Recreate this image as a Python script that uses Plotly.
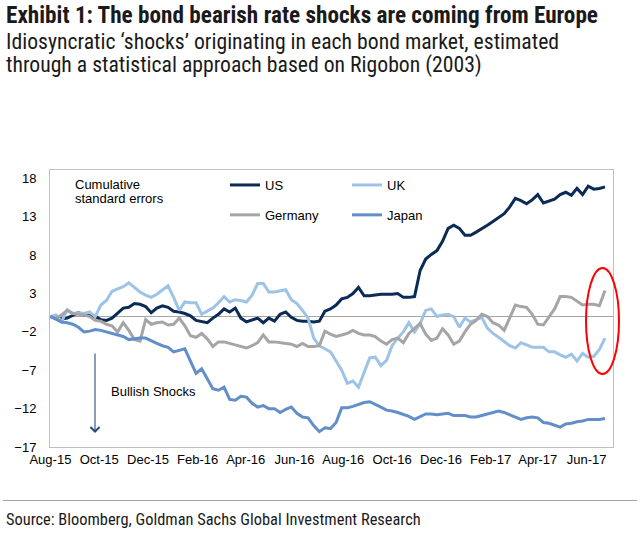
import plotly.graph_objects as go
import pandas as pd

# ---- data (weekly, cumulative standard errors) ----
start_date = "2015-08-01"
n_weeks = 100
dates = pd.date_range(start_date, periods=n_weeks, freq="7D")

us = [0, -0.2, -0.3, -0.2, 0.2, 0.5, 0.2, 0.1, 0, -0.4,
      -0.5, -0.2, 0.5, 1.1, 1.2, 1.7, 1.6, 1.3, 0.5, 1.1,
      1.4, 1.2, 0.7, 0.6, 0.4, 0.1, -0.5, -0.7, -0.8, -0.2,
      0.3, 1.0, 0.6, 1.1, -0.2, -0.7, -0.5, -0.2, -0.8, -0.2,
      -0.6, 0.3, 0.6, -0.1, -0.5, -0.6, -0.6, -0.7, -0.6, 0.7,
      1.0, 1.5, 2.3, 2.5, 3.0, 3.8, 2.7, 2.7, 2.8, 2.9,
      2.9, 2.9, 3.0, 2.5, 2.5, 2.6, 6.0, 7.5, 8.1, 8.6,
      9.8, 11.5, 11.9, 11.5, 10.6, 10.6, 11.0, 11.4, 11.9, 12.4,
      12.9, 13.4, 14.3, 15.4, 15.1, 14.7, 15.2, 15.9, 14.8, 15.0,
      15.3, 15.9, 16.2, 15.8, 16.7, 15.9, 17.0, 16.6, 16.7, 16.9]

uk = [0, 0.2, -0.7, 0.9, 0.4, 0.5, 0.4, 0.6, 0, 1.5,
      2.1, 3.3, 3.6, 3.9, 4.4, 3.8, 3.2, 2.8, 2.5, 2.9,
      3.4, 4.0, 2.5, 0.8, 1.9, 1.8, 1.8, 0.3, 0.7, 1.1,
      1.8, 2.6, 1.9, 2.2, 2.1, 1.9, 2.8, 4.3, 4.3, 3.2,
      3.2, 3.4, 3.5, 2.2, 1.7, 0.8, -0.2, -2.8, -3.8, -4.2,
      -4.6, -5.8, -7.0, -8.7, -8.4, -9.2, -7.2, -5.4, -5.3, -6.4,
      -5.7, -3.8, -2.8, -2.0, -0.8, -2.0, -0.9, 0.8, 1.0, 0,
      0.2, 0.3, 0, -1.4, -0.2, -0.7, -0.4, -0.1, -1.5, -2.2,
      -2.7, -3.3, -3.8, -4.1, -3.4, -3.7, -4.0, -4.0, -4.0, -4.6,
      -4.6, -5.0, -5.3, -4.9, -5.8, -4.8, -5.3, -5.2, -4.3, -2.8]

germany = [0, -0.2, 0.2, 0.8, 0.4, 0.3, 0.2, 0, -0.5, -0.6,
           -1.0, -1.2, -2.0, -0.8, -1.8, -3.0, -3.2, -0.4, -1.0, -0.8,
           -0.7, -1.1, -1.0, -0.2, -1.2, -2.5, -2.7, -2.2, -2.9, -3.9,
           -3.3, -3.3, -3.5, -3.8, -4.0, -4.1, -3.8, -3.4, -2.4, -3.3,
           -3.3, -3.4, -3.5, -3.6, -3.9, -3.5, -3.9, -3.9, -3.8, -1.9,
           -2.3, -2.6, -2.4, -2.2, -1.8, -2.2, -2.4, -2.4, -2.6, -3.2,
           -3.6, -3.0, -2.8, -3.4, -2.2, -1.6, -0.9, -2.3, -3.1, -2.8,
           -1.6, -2.4, -3.6, -3.2, -2.0, -1.0, -0.5, 0.3, 0, -0.8,
           -1.1, -1.8, -0.1, 1.5, 1.3, 1.2, 0.3, -1.0, -1.1, 0,
           1.0, 2.6, 2.6, 2.5, 2.0, 1.5, 1.6, 1.6, 1.4, 3.4]

japan = [0, -0.4, -0.7, -0.8, -1.0, -1.4, -2.0, -1.9, -1.7, -1.8,
         -2.0, -2.2, -2.3, -2.6, -3.0, -2.9, -2.8, -2.8, -3.2, -3.5,
         -3.8, -4.0, -4.6, -4.4, -4.2, -5.8, -7.4, -6.8, -8.2, -9.4,
         -9.6, -9.2, -10.8, -10.9, -10.4, -10.5, -11.3, -11.8, -11.6, -12.0,
         -12.0, -12.5, -12.1, -11.8, -12.6, -13.1, -13.2, -14.2, -15.0, -14.5,
         -14.6, -13.8, -11.9, -11.9, -11.7, -11.4, -11.2, -11.1, -11.4, -11.8,
         -12.2, -12.3, -12.5, -12.7, -13.0, -13.4, -13.1, -12.7, -12.7, -12.8,
         -12.7, -12.6, -12.9, -12.9, -12.9, -13.1, -13.1, -12.9, -12.7, -12.5,
         -12.3, -12.5, -12.8, -13.0, -13.4, -13.2, -13.1, -13.2, -13.8, -13.9,
         -14.1, -14.4, -14.0, -13.9, -13.7, -13.6, -13.4, -13.4, -13.4, -13.3]

y_ticks = [-17, -12, -7, -2, 3, 8, 13, 18]
x_tick_dates = ["2015-08-01", "2015-10-01", "2015-12-01", "2016-02-01", "2016-04-01",
                "2016-06-01", "2016-08-01", "2016-10-01", "2016-12-01", "2017-02-01",
                "2017-04-01", "2017-06-01"]
x_tick_labels = ["Aug-15", "Oct-15", "Dec-15", "Feb-16", "Apr-16", "Jun-16",
                 "Aug-16", "Oct-16", "Dec-16", "Feb-17", "Apr-17", "Jun-17"]

# ---- styling ----
W, H = 640, 535
L, R, T, B = 50, 27, 170, 88
PW, PH = W - L - R, H - T - B


def px(x):
    return (x - L) / PW


def py(y):
    return (H - B - y) / PH


FONT = "Liberation Sans, Arial, sans-serif"
NARROW = "Liberation Sans Narrow, Arial Narrow, Roboto Condensed, DejaVu Sans Condensed, sans-serif"

series = [
    ("US", us, "#0B2B55", "legend", "g1"),
    ("UK", uk, "#9DC3E6", "legend2", "g3"),
    ("Germany", germany, "#A5A5A5", "legend", "g2"),
    ("Japan", japan, "#628FC8", "legend2", "g4"),
]

fig = go.Figure()
for name, vals, color, leg, grp in series:
    fig.add_trace(go.Scatter(
        x=dates, y=vals, name=name, mode="lines",
        line=dict(color=color, width=3),
        legend=leg, legendgroup=grp,
    ))

fig.update_layout(
    width=W, height=H,
    margin=dict(l=L, r=R, t=T, b=B),
    paper_bgcolor="white", plot_bgcolor="white",
    font=dict(family=FONT, size=13, color="#000000"),
    showlegend=True,
    legend=dict(x=px(225), y=py(170), xanchor="left", yanchor="top",
                bgcolor="rgba(0,0,0,0)", tracegroupgap=10,
                font=dict(size=13, family=FONT), itemwidth=30),
    legend2=dict(x=px(347), y=py(170), xanchor="left", yanchor="top",
                 bgcolor="rgba(0,0,0,0)", tracegroupgap=10,
                 font=dict(size=13, family=FONT), itemwidth=30),
    xaxis=dict(
        type="date",
        range=["2015-07-31 12:00", "2017-07-04"],
        tickvals=x_tick_dates, ticktext=x_tick_labels,
        showgrid=False, zeroline=False,
        showline=True, linecolor="#BFBFBF", linewidth=1, mirror=True,
        ticks="", tickfont=dict(size=13, family=FONT),
    ),
    yaxis=dict(
        range=[-17, 19.1],
        tickvals=y_ticks,
        showgrid=False,
        zeroline=True, zerolinecolor="#A6A6A6", zerolinewidth=1,
        showline=True, linecolor="#BFBFBF", linewidth=1, mirror=True,
        ticks="", ticklabelstandoff=10, tickfont=dict(size=13, family=FONT),
    ),
)

annotations = [
    dict(text="<b>Exhibit 1: The bond bearish rate shocks are coming from Europe</b>",
         x=px(4), y=py(15), xanchor="left", yanchor="middle",
         font=dict(family=NARROW, size=23.2, color="#1a1a1a")),
    dict(text="Idiosyncratic ‘shocks’ originating in each bond market, estimated",
         x=px(4), y=py(41), xanchor="left", yanchor="middle",
         font=dict(family=NARROW, size=21.7, color="#1a1a1a")),
    dict(text="through a statistical approach based on Rigobon (2003)",
         x=px(4), y=py(65), xanchor="left", yanchor="middle",
         font=dict(family=NARROW, size=21.7, color="#1a1a1a")),
    dict(text="Cumulative", x=px(73), y=py(184), xanchor="left", yanchor="middle",
         font=dict(size=13)),
    dict(text="standard errors", x=px(73), y=py(198), xanchor="left", yanchor="middle",
         font=dict(size=13)),
    dict(text="Bullish Shocks", x=px(109), y=py(391), xanchor="left", yanchor="middle",
         font=dict(size=13)),
    dict(text="Source: Bloomberg, Goldman Sachs Global Investment Research",
         x=px(4), y=py(519), xanchor="left", yanchor="middle",
         font=dict(family=NARROW, size=16.4, color="#1a1a1a")),
    dict(text="", x=px(95), y=py(433), ax=0, ay=-81, showarrow=True,
         arrowhead=4, arrowsize=1.6, arrowwidth=1.1, arrowcolor="#2E4A7A"),
]
for a in annotations:
    a.setdefault("xref", "paper")
    a.setdefault("yref", "paper")
    a.setdefault("showarrow", False)
    fig.add_annotation(**a)

fig.add_shape(type="circle", xref="paper", yref="paper",
              x0=px(586), x1=px(619), y0=py(374), y1=py(268),
              line=dict(color="#FF0000", width=2))
fig.add_shape(type="line", xref="paper", yref="paper",
              x0=px(3), x1=px(637), y0=py(500.5), y1=py(500.5),
              line=dict(color="#A6A6A6", width=1))

fig.write_html("out.html",
               config={"displayModeBar": False},
               post_script="document.body.style.margin='0';document.body.style.padding='0';")
